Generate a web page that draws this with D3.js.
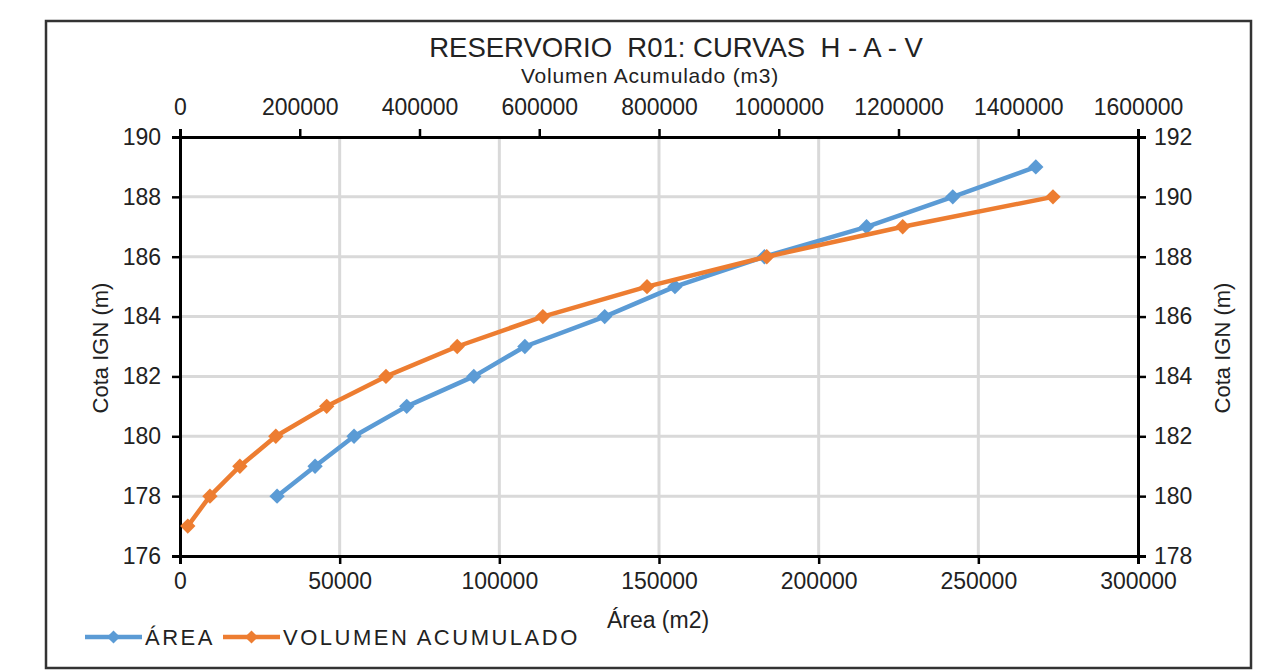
<!DOCTYPE html>
<html>
<head>
<meta charset="utf-8">
<script src="https://cdn.jsdelivr.net/npm/d3@7"></script>
<style>
  body { margin: 0; background: #fff; }
  text { font-family: "Liberation Sans", Arial, sans-serif; fill: #222; white-space: pre; }
</style>
</head>
<body>
<script>
// data
var cotaArea = [178, 179, 180, 181, 182, 183, 184, 185, 186, 187, 188, 189];
var area = [30400, 42300, 54500, 71000, 92000, 108000, 133000, 155000, 183000, 215000, 242000, 268000];

var cotaVol = [179, 180, 181, 182, 183, 184, 185, 186, 187, 188, 189, 190];
var volumen = [13000, 50000, 100000, 160000, 245000, 344000, 463000, 606000, 780000, 980000, 1207000, 1458000];

var areaTicks = [0, 50000, 100000, 150000, 200000, 250000, 300000];
var volTicks = [0, 200000, 400000, 600000, 800000, 1000000, 1200000, 1400000, 1600000];
var leftTicks = [176, 178, 180, 182, 184, 186, 188, 190];
var rightTicks = [178, 180, 182, 184, 186, 188, 190, 192];

var width = 1267, height = 671;
var m = {left: 180, right: 1138, top: 137, bottom: 556};
var blue = '#5b9bd5', orange = '#ed7d31';

var svg = d3.select('body').append('svg')
  .attr('width', width)
  .attr('height', height);

// frame
svg.append('rect')
  .attr('x', 46).attr('y', 21)
  .attr('width', 1205).attr('height', 647)
  .attr('fill', '#fff').attr('stroke', '#333').attr('stroke-width', 2.5);

var xA = d3.scaleLinear().domain([0, 300000]).range([m.left, m.right]);
var xV = d3.scaleLinear().domain([0, 1600000]).range([m.left, m.right]);
var yL = d3.scaleLinear().domain([176, 190]).range([m.bottom, m.top]);
var yR = d3.scaleLinear().domain([178, 192]).range([m.bottom, m.top]);

// grid
svg.append('g').selectAll('line')
  .data(areaTicks.slice(1, -1))
  .join('line')
    .attr('x1', d => xA(d)).attr('x2', d => xA(d))
    .attr('y1', m.top).attr('y2', m.bottom)
    .attr('stroke', '#d9d9d9').attr('stroke-width', 3);
svg.append('g').selectAll('line')
  .data(leftTicks.slice(1, -1))
  .join('line')
    .attr('x1', m.left).attr('x2', m.right)
    .attr('y1', d => yL(d)).attr('y2', d => yL(d))
    .attr('stroke', '#d9d9d9').attr('stroke-width', 3);

function styleAxis(g) {
  g.select('.domain').attr('stroke', '#000').attr('stroke-width', 3);
  g.selectAll('.tick line').attr('stroke', '#000').attr('stroke-width', 2.5);
  g.selectAll('.tick text').attr('font-size', 23).attr('fill', '#222')
    .style('font-family', '"Liberation Sans", Arial, sans-serif');
}

var fmt = d3.format('d');

svg.append('g')
  .attr('transform', 'translate(0,' + m.bottom + ')')
  .call(d3.axisBottom(xA).tickValues(areaTicks).tickFormat(fmt).tickSizeOuter(0).tickSize(8).tickPadding(9))
  .call(styleAxis);

svg.append('g')
  .attr('transform', 'translate(0,' + m.top + ')')
  .call(d3.axisTop(xV).tickValues(volTicks).tickFormat(fmt).tickSizeOuter(0).tickSize(8).tickPadding(14))
  .call(styleAxis);

svg.append('g')
  .attr('transform', 'translate(' + m.left + ',0)')
  .call(d3.axisLeft(yL).tickValues(leftTicks).tickFormat(fmt).tickSizeOuter(0).tickSize(8).tickPadding(11))
  .call(styleAxis);

svg.append('g')
  .attr('transform', 'translate(' + m.right + ',0)')
  .call(d3.axisRight(yR).tickValues(rightTicks).tickFormat(fmt).tickSizeOuter(0).tickSize(8).tickPadding(8))
  .call(styleAxis);

// series
function drawSeries(xs, ys, xScale, yScale, color) {
  var pts = xs.map((x, i) => [xScale(x), yScale(ys[i])]);
  svg.append('path')
    .attr('d', d3.line()(pts))
    .attr('fill', 'none')
    .attr('stroke', color)
    .attr('stroke-width', 4.5)
    .attr('stroke-linejoin', 'round');
  svg.append('g').selectAll('path')
    .data(pts)
    .join('path')
      .attr('transform', d => 'translate(' + d[0] + ',' + d[1] + ')')
      .attr('d', d3.symbol(d3.symbolDiamond2, 150)())
      .attr('fill', color);
}
drawSeries(area, cotaArea, xA, yL, blue);
drawSeries(volumen, cotaVol, xV, yR, orange);

// titles
svg.append('text')
  .attr('x', 676).attr('y', 57)
  .attr('text-anchor', 'middle').attr('font-size', 27.5)
  .text('RESERVORIO  R01: CURVAS  H - A - V');

svg.append('text')
  .attr('x', 650).attr('y', 83)
  .attr('text-anchor', 'middle').attr('font-size', 21)
  .attr('letter-spacing', 0.8)
  .text('Volumen Acumulado (m3)');

svg.append('text')
  .attr('x', 658).attr('y', 628)
  .attr('text-anchor', 'middle').attr('font-size', 23)
  .text('Área (m2)');

svg.append('text')
  .attr('transform', 'translate(108,348) rotate(-90)')
  .attr('text-anchor', 'middle').attr('font-size', 22)
  .text('Cota IGN (m)');

svg.append('text')
  .attr('transform', 'translate(1230,348) rotate(-90)')
  .attr('text-anchor', 'middle').attr('font-size', 22)
  .text('Cota IGN (m)');

// legend
var legend = [
  {name: 'ÁREA', color: blue, x: 85},
  {name: 'VOLUMEN ACUMULADO', color: orange, x: 223}
];
var lg = svg.append('g').selectAll('g')
  .data(legend)
  .join('g')
    .attr('transform', d => 'translate(' + d.x + ',637)');
lg.append('line')
  .attr('x1', 0).attr('x2', 57)
  .attr('stroke', d => d.color).attr('stroke-width', 4.5);
lg.append('path')
  .attr('transform', 'translate(28.5,0)')
  .attr('d', d3.symbol(d3.symbolDiamond2, 110)())
  .attr('fill', d => d.color);
lg.append('text')
  .attr('x', 60).attr('y', 8)
  .attr('font-size', 22)
  .attr('letter-spacing', 2.5)
  .text(d => d.name);
</script>
</body>
</html>
